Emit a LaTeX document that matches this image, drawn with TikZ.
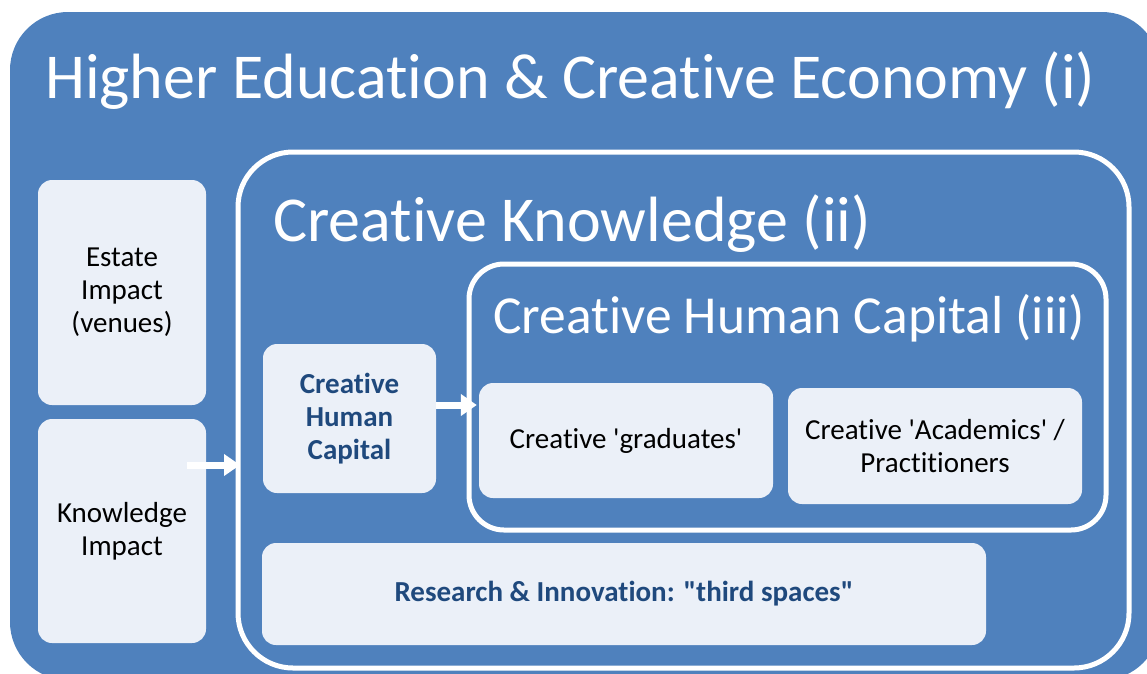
\documentclass[tikz,border=0pt]{standalone}
\usepackage{fontspec}
\newfontfamily\cfont{Carlito}[Ligatures={NoCommon,NoContextual,NoRequired}, RawFeature={-liga;-clig;-calt;-dlig}]
\usetikzlibrary{arrows.meta}
\definecolor{bgblue}{HTML}{4F81BD}
\definecolor{lightbox}{HTML}{EBF0F8}
\definecolor{darktext}{HTML}{1F497D}
\tikzset{
  lbox/.style={fill=lightbox, rounded corners=14pt, inner sep=0pt, align=center,
    font=\cfont\fontsize{29}{33}\selectfont, text=black},
  boldbox/.style={lbox, font=\cfont\fontsize{29}{33}\selectfont\bfseries, text=darktext},
  container/.style={draw=white, line width=5pt, inner sep=0pt},
  titletext/.style={anchor=base west, inner sep=0pt, text=white},
  arr/.style={white, line width=7pt, -{Triangle[length=16pt,width=21pt]}}
}
\begin{document}
\begin{tikzpicture}[x=1pt,y=-1pt]
\clip (0,0) rectangle (1147,673);
\node[fill=bgblue, rounded corners=58pt, inner sep=0pt, minimum width=1150pt, minimum height=668pt] (outer) at (585,346) {};
\node[titletext, font=\cfont\fontsize{64}{70}\selectfont] (t1) at (45,98) {Higher Education \& Creative Economy (i)};
\node[container, rounded corners=55pt, minimum width=891pt, minimum height=516pt] (ii) at (683.5,410) {};
\node[titletext, font=\cfont\fontsize{64}{68}\selectfont] (t2) at (273,241) {Creative Knowledge (ii)};
\node[container, rounded corners=35pt, minimum width=637pt, minimum height=266pt] (iii) at (787.5,397) {};
\node[titletext, font=\cfont\fontsize{53.5}{60}\selectfont] (t3) at (493,333) {Creative Human Capital (iii)};
\node[lbox, minimum width=168pt, minimum height=225pt] (est) at (122,292.5) {Estate\\Impact\\(venues)};
\node[lbox, minimum width=168pt, minimum height=224pt] (kn) at (122,531) {Knowledge\\Impact};
\node[boldbox, minimum width=173pt, minimum height=149pt] (chc) at (349.5,418.5) {Creative\\Human\\Capital};
\node[lbox, minimum width=294pt, minimum height=115pt] (grad) at (626,440.5) {Creative 'graduates'};
\node[lbox, minimum width=294pt, minimum height=116pt] (acad) at (935,446) {Creative 'Academics' /\\Practitioners};
\node[boldbox, minimum width=724pt, minimum height=102pt] (res) at (624,594) {Research \& Innovation: "third spaces"};
\coordinate (a1s) at (187,465);
\coordinate (a1e) at (240,465);
\draw[arr] (a1s) -- (a1e);
\draw[arr] ([yshift=13.5pt]chc.east) -- ([yshift=35.5pt,xshift=-2pt]grad.west);
\end{tikzpicture}
\end{document}
